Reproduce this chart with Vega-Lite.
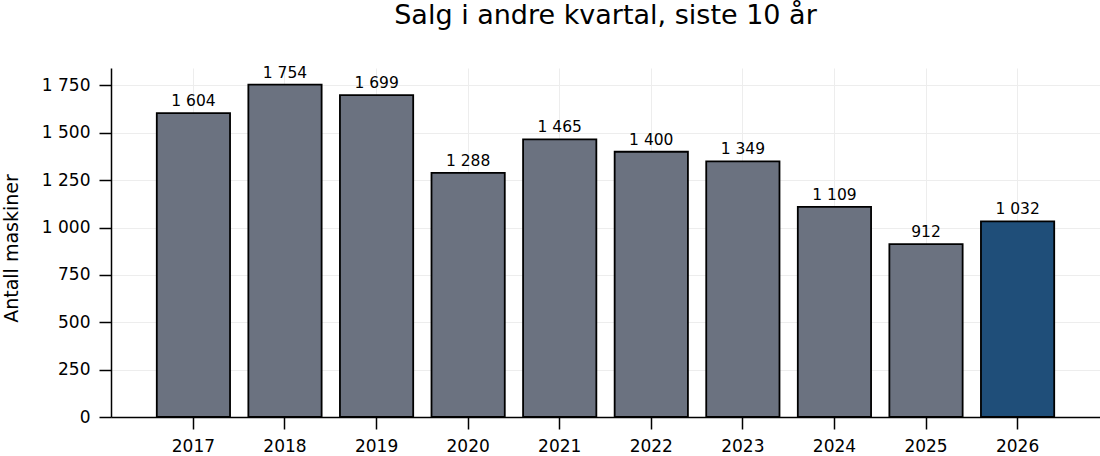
{
  "$schema": "https://vega.github.io/schema/vega-lite/v6.json",
  "autosize": {"type": "none"},
  "padding": {"left": 111, "top": 68, "right": 0, "bottom": 39},
  "width": 989,
  "height": 349,
  "background": "white",
  "title": {
    "text": "Salg i andre kvartal, siste 10 år",
    "fontSize": 27,
    "font": "DejaVu Sans",
    "fontWeight": "normal",
    "color": "black",
    "offset": 36
  },
  "config": {
    "locale": {"number": {"decimal": ",", "thousands": " ", "grouping": [3], "currency": ["", " kr"]}},
    "font": "DejaVu Sans",
    "view": {"stroke": null},
    "axis": {
      "domainColor": "black",
      "domainWidth": 1.5,
      "tickColor": "black",
      "tickWidth": 1.5,
      "tickSize": 12,
      "labelColor": "black",
      "labelFontSize": 17,
      "labelPadding": 9,
      "gridColor": "#ededed",
      "gridWidth": 1
    }
  },
  "data": {
    "values": [
      {"year": "2017", "antall": 1604, "current": "no"},
      {"year": "2018", "antall": 1754, "current": "no"},
      {"year": "2019", "antall": 1699, "current": "no"},
      {"year": "2020", "antall": 1288, "current": "no"},
      {"year": "2021", "antall": 1465, "current": "no"},
      {"year": "2022", "antall": 1400, "current": "no"},
      {"year": "2023", "antall": 1349, "current": "no"},
      {"year": "2024", "antall": 1109, "current": "no"},
      {"year": "2025", "antall": 912, "current": "no"},
      {"year": "2026", "antall": 1032, "current": "yes"}
    ]
  },
  "encoding": {
    "x": {
      "field": "year",
      "type": "ordinal",
      "title": null,
      "scale": {"paddingInner": 0.2, "paddingOuter": 0.5},
      "axis": {"labelAngle": 0, "grid": true, "bandPosition": 0.5}
    },
    "y": {
      "field": "antall",
      "type": "quantitative",
      "title": "Antall maskiner",
      "scale": {"domain": [0, 1842], "nice": false},
      "axis": {
        "values": [0, 250, 500, 750, 1000, 1250, 1500, 1750],
        "format": ",d",
        "grid": true,
        "titleFontSize": 19,
        "titleFontWeight": "normal",
        "titleColor": "black",
        "titlePadding": 20,
        "titleY": 180
      }
    }
  },
  "layer": [
    {
      "mark": {"type": "bar", "stroke": "black", "strokeWidth": 1.8},
      "encoding": {
        "color": {
          "field": "current",
          "type": "nominal",
          "scale": {"domain": ["no", "yes"], "range": ["#6b7280", "#1f4e79"]},
          "legend": null
        }
      }
    },
    {
      "mark": {"type": "text", "baseline": "bottom", "dy": -4, "fontSize": 15.5, "color": "black"},
      "encoding": {
        "text": {"field": "antall", "type": "quantitative", "format": ",d"}
      }
    }
  ]
}
